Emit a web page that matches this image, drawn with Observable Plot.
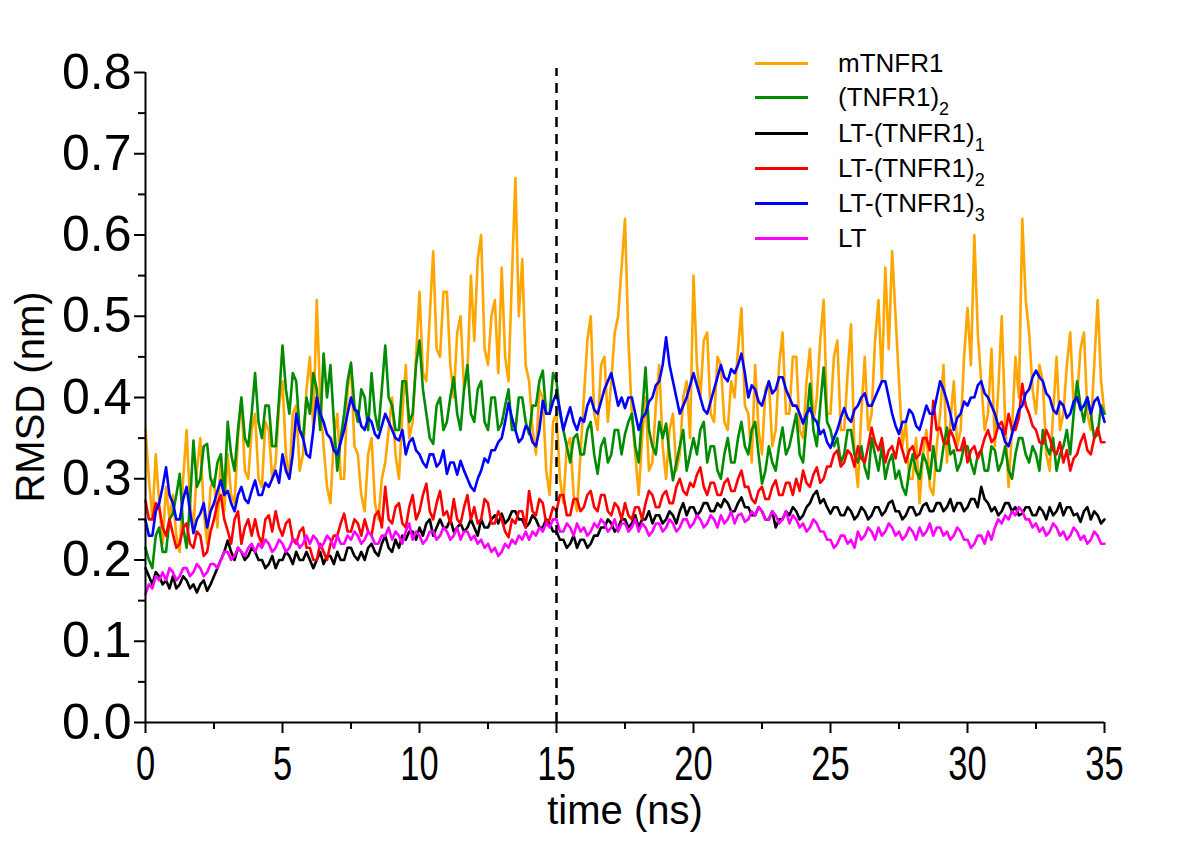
<!DOCTYPE html>
<html>
<head>
<meta charset="utf-8">
<script src="https://cdn.jsdelivr.net/npm/d3@7"></script>
<script src="https://cdn.jsdelivr.net/npm/@observablehq/plot@0.6"></script>
<style>
  body { margin: 0; background: #fff; }
  #wrap { position: relative; width: 1200px; height: 848px; font-family: "Liberation Sans", Arial, sans-serif; }
  #legend { position: absolute; left: 755px; top: 0; }
  .row { position: absolute; left: 0; height: 0; white-space: nowrap; }
  .sw { position: absolute; left: 0; width: 53px; height: 3px; top: -1.5px; }
  .lab { position: absolute; left: 83px; top: -15px; font-size: 26px; line-height: 30px; color: #000; }
  .lab sub { font-size: 18px; vertical-align: -9px; line-height: 0; }
  .title { position: absolute; white-space: nowrap; color: #000; font-size: 40px; line-height: 40px; }
  #xtitle { left: 625px; top: 810px; transform: translate(-50%, -50%); }
  #ytitle { left: 30px; top: 397px; transform: translate(-50%, -50%) rotate(-90deg); }
</style>
</head>
<body>
<div id="wrap"><div id="legend"></div><div class="title" id="xtitle"></div><div class="title" id="ytitle"></div></div>
<script>
// sampling step of the time series (ns)
const dt = 0.125;

const xTitle = "time (ns)";
const yTitle = "RMSD (nm)";
const seriesColors = ["#ffa500", "#008c00", "#000000", "#ff0000", "#0000ff", "#ff00ff"];

const mTNFR1 = [
0.36,0.30,0.25,0.33,0.27,0.22,0.29,0.25, 0.28,0.23,0.21,0.30,0.36,0.27,0.24,0.31,
0.35,0.26,0.22,0.29,0.30,0.24,0.33,0.26, 0.33,0.28,0.27,0.35,0.40,0.31,0.30,0.36,
0.38,0.30,0.29,0.37,0.36,0.30,0.32,0.39, 0.42,0.33,0.30,0.38,0.39,0.31,0.33,0.41,
0.45,0.36,0.52,0.40,0.34,0.29,0.27,0.35, 0.38,0.30,0.30,0.41,0.44,0.34,0.33,0.28,
0.26,0.33,0.35,0.27,0.25,0.30,0.32,0.36, 0.40,0.33,0.30,0.38,0.44,0.35,0.37,0.45,
0.53,0.43,0.42,0.50,0.58,0.46,0.45,0.53, 0.53,0.44,0.40,0.48,0.50,0.41,0.43,0.55,
0.47,0.57,0.60,0.46,0.44,0.50,0.52,0.43, 0.56,0.45,0.42,0.55,0.67,0.50,0.57,0.44,
0.42,0.36,0.33,0.41,0.40,0.31,0.28,0.37, 0.38,0.30,0.27,0.34,0.35,0.28,0.26,0.33,
0.40,0.47,0.50,0.38,0.36,0.44,0.45,0.37, 0.42,0.48,0.50,0.56,0.62,0.47,0.38,0.33,
0.28,0.35,0.40,0.31,0.32,0.39,0.44,0.34, 0.30,0.36,0.38,0.31,0.33,0.40,0.42,0.35,
0.55,0.44,0.40,0.47,0.48,0.38,0.37,0.45, 0.44,0.37,0.36,0.42,0.40,0.46,0.51,0.39,
0.38,0.32,0.44,0.36,0.33,0.41,0.42,0.34, 0.36,0.44,0.48,0.38,0.38,0.45,0.45,0.36,
0.35,0.42,0.46,0.37,0.40,0.47,0.52,0.38, 0.38,0.45,0.47,0.36,0.36,0.43,0.49,0.33,
0.29,0.38,0.45,0.36,0.38,0.47,0.52,0.42, 0.56,0.46,0.58,0.50,0.42,0.34,0.37,0.30,
0.30,0.35,0.27,0.33,0.36,0.29,0.28,0.34, 0.38,0.44,0.32,0.37,0.42,0.34,0.36,0.45,
0.51,0.44,0.60,0.48,0.42,0.36,0.38,0.46, 0.34,0.41,0.50,0.37,0.29,0.36,0.45,0.40,
0.62,0.52,0.48,0.41,0.38,0.44,0.42,0.33, 0.31,0.38,0.45,0.36,0.38,0.44,0.48,0.39,
0.40,0.46,0.48,0.38,0.36,0.44,0.52,0.42, 0.38];

const TNFR1_2 = [
0.215,0.20,0.19,0.23,0.24,0.21,0.21,0.25, 0.257,0.28,0.306,0.24,0.215,0.27,0.347,0.29,
0.30,0.34,0.343,0.30,0.29,0.32,0.33,0.28, 0.37,0.33,0.31,0.36,0.40,0.35,0.34,0.38,
0.43,0.37,0.35,0.39,0.39,0.34,0.34,0.40, 0.464,0.41,0.38,0.43,0.42,0.36,0.35,0.40,
0.38,0.43,0.41,0.36,0.454,0.40,0.44,0.37, 0.31,0.35,0.38,0.42,0.443,0.39,0.37,0.41,
0.40,0.36,0.43,0.38,0.36,0.41,0.464,0.40, 0.39,0.36,0.36,0.42,0.42,0.37,0.38,0.44,
0.47,0.41,0.38,0.35,0.343,0.39,0.40,0.36, 0.37,0.40,0.425,0.38,0.36,0.41,0.44,0.38,
0.37,0.41,0.42,0.37,0.36,0.40,0.40,0.36, 0.368,0.39,0.41,0.36,0.36,0.40,0.40,0.37,
0.355,0.39,0.39,0.42,0.433,0.38,0.38,0.43, 0.42,0.38,0.36,0.34,0.32,0.35,0.355,0.33,
0.33,0.36,0.37,0.33,0.306,0.34,0.35,0.32, 0.33,0.36,0.36,0.33,0.355,0.37,0.38,0.34,
0.32,0.38,0.437,0.36,0.34,0.33,0.37,0.35, 0.368,0.33,0.298,0.32,0.34,0.36,0.31,0.33,
0.35,0.33,0.36,0.37,0.32,0.34,0.34,0.31, 0.30,0.33,0.35,0.32,0.32,0.35,0.37,0.34,
0.33,0.36,0.37,0.33,0.294,0.31,0.34,0.32, 0.31,0.34,0.363,0.33,0.34,0.36,0.38,0.33,
0.32,0.37,0.417,0.36,0.34,0.39,0.437,0.37, 0.36,0.34,0.35,0.32,0.33,0.36,0.36,0.33,
0.32,0.34,0.314,0.30,0.35,0.33,0.31,0.34, 0.30,0.32,0.33,0.30,0.31,0.29,0.28,0.31,
0.33,0.31,0.30,0.33,0.32,0.30,0.34,0.31, 0.31,0.34,0.363,0.33,0.335,0.31,0.32,0.34,
0.34,0.32,0.306,0.33,0.335,0.31,0.31,0.34, 0.335,0.31,0.32,0.34,0.31,0.30,0.33,0.35,
0.35,0.33,0.32,0.34,0.33,0.31,0.36,0.34, 0.33,0.35,0.31,0.33,0.34,0.36,0.33,0.38,
0.42,0.39,0.37,0.40,0.38,0.35,0.355,0.39, 0.38];

const LT_TNFR1_1 = [
0.19,0.18,0.17,0.185,0.18,0.17,0.175,0.165, 0.18,0.165,0.17,0.18,0.175,0.165,0.17,0.16,
0.17,0.175,0.162,0.17,0.18,0.19,0.20,0.21, 0.224,0.21,0.20,0.215,0.21,0.20,0.205,0.215,
0.21,0.20,0.20,0.19,0.195,0.205,0.19,0.20, 0.20,0.21,0.205,0.195,0.21,0.20,0.20,0.21,
0.20,0.19,0.20,0.21,0.195,0.205,0.205,0.195, 0.21,0.20,0.20,0.215,0.215,0.205,0.20,0.21,
0.20,0.215,0.22,0.21,0.205,0.22,0.23,0.215, 0.21,0.225,0.215,0.23,0.225,0.235,0.235,0.225,
0.24,0.23,0.245,0.25,0.23,0.24,0.25,0.24, 0.24,0.25,0.235,0.24,0.245,0.235,0.24,0.25,
0.24,0.23,0.25,0.24,0.24,0.25,0.255,0.245, 0.257,0.245,0.25,0.26,0.26,0.25,0.25,0.24,
0.245,0.255,0.25,0.24,0.24,0.25,0.245,0.235, 0.235,0.225,0.225,0.215,0.22,0.23,0.215,0.225,
0.225,0.215,0.22,0.23,0.23,0.24,0.24,0.25, 0.245,0.235,0.24,0.25,0.25,0.24,0.245,0.255,
0.24,0.25,0.25,0.26,0.245,0.255,0.255,0.245, 0.25,0.26,0.255,0.245,0.26,0.27,0.255,0.265,
0.265,0.255,0.26,0.27,0.27,0.26,0.26,0.27, 0.265,0.275,0.27,0.26,0.26,0.27,0.277,0.265,
0.265,0.255,0.255,0.265,0.26,0.25,0.25,0.26, 0.24,0.25,0.25,0.26,0.255,0.265,0.26,0.25,
0.255,0.265,0.27,0.28,0.285,0.27,0.275,0.265, 0.257,0.265,0.265,0.255,0.255,0.265,0.26,0.25,
0.255,0.265,0.26,0.25,0.255,0.265,0.265,0.255, 0.26,0.27,0.273,0.26,0.26,0.25,0.255,0.265,
0.265,0.255,0.257,0.267,0.27,0.26,0.26,0.27, 0.27,0.26,0.265,0.275,0.26,0.27,0.27,0.26,
0.265,0.275,0.275,0.265,0.29,0.275,0.27,0.26, 0.265,0.255,0.26,0.27,0.27,0.26,0.265,0.255,
0.257,0.265,0.265,0.255,0.255,0.265,0.26,0.25, 0.265,0.255,0.26,0.27,0.255,0.265,0.265,0.255,
0.257,0.247,0.26,0.265,0.25,0.26,0.255,0.245, 0.25];

const LT_TNFR1_2 = [
0.273,0.25,0.25,0.27,0.265,0.24,0.23,0.25, 0.232,0.215,0.22,0.24,0.245,0.22,0.215,0.235,
0.23,0.205,0.21,0.235,0.25,0.27,0.28,0.25, 0.236,0.22,0.25,0.26,0.22,0.24,0.25,0.23,
0.25,0.23,0.22,0.25,0.255,0.235,0.26,0.24, 0.23,0.245,0.25,0.225,0.22,0.235,0.24,0.215,
0.215,0.20,0.20,0.22,0.21,0.20,0.22,0.23, 0.23,0.245,0.257,0.235,0.235,0.25,0.245,0.23,
0.25,0.235,0.23,0.255,0.26,0.24,0.29,0.25, 0.245,0.265,0.27,0.245,0.24,0.265,0.28,0.25,
0.26,0.28,0.294,0.26,0.25,0.27,0.285,0.255, 0.26,0.245,0.275,0.25,0.245,0.265,0.28,0.25,
0.265,0.245,0.25,0.275,0.27,0.245,0.245,0.26, 0.25,0.235,0.228,0.25,0.245,0.26,0.26,0.24,
0.285,0.26,0.255,0.275,0.27,0.245,0.25,0.265, 0.26,0.28,0.28,0.255,0.255,0.275,0.275,0.26,
0.265,0.28,0.285,0.265,0.26,0.28,0.28,0.26, 0.255,0.27,0.265,0.25,0.27,0.255,0.25,0.265,
0.265,0.25,0.27,0.285,0.28,0.265,0.265,0.28, 0.285,0.27,0.27,0.29,0.30,0.285,0.28,0.295,
0.29,0.305,0.314,0.29,0.28,0.295,0.295,0.28, 0.28,0.295,0.30,0.285,0.285,0.30,0.31,0.29,
0.29,0.275,0.27,0.285,0.29,0.275,0.275,0.29, 0.298,0.28,0.28,0.295,0.295,0.28,0.30,0.285,
0.31,0.295,0.29,0.305,0.314,0.295,0.30,0.315, 0.315,0.33,0.335,0.315,0.32,0.335,0.33,0.315,
0.34,0.325,0.32,0.34,0.363,0.345,0.335,0.35, 0.32,0.335,0.34,0.325,0.35,0.335,0.32,0.335,
0.34,0.325,0.33,0.35,0.35,0.335,0.396,0.36, 0.363,0.345,0.343,0.36,0.35,0.335,0.335,0.35,
0.32,0.335,0.34,0.325,0.335,0.35,0.36,0.345, 0.35,0.365,0.37,0.355,0.38,0.36,0.36,0.375,
0.417,0.39,0.38,0.365,0.36,0.345,0.343,0.36, 0.35,0.335,0.33,0.345,0.32,0.335,0.31,0.325,
0.33,0.345,0.355,0.335,0.33,0.35,0.363,0.345, 0.345];

const LT_TNFR1_3 = [
0.249,0.23,0.23,0.26,0.27,0.29,0.314,0.28, 0.27,0.25,0.25,0.275,0.29,0.26,0.233,0.25,
0.257,0.27,0.24,0.26,0.27,0.285,0.298,0.28, 0.285,0.27,0.26,0.28,0.29,0.275,0.27,0.285,
0.298,0.28,0.28,0.295,0.29,0.30,0.31,0.295, 0.33,0.31,0.30,0.33,0.38,0.36,0.35,0.33,
0.326,0.36,0.40,0.38,0.37,0.355,0.35,0.335, 0.33,0.345,0.36,0.38,0.40,0.385,0.383,0.365,
0.36,0.375,0.37,0.355,0.35,0.365,0.38,0.37, 0.36,0.35,0.347,0.36,0.33,0.345,0.35,0.335,
0.33,0.32,0.314,0.33,0.33,0.315,0.32,0.335, 0.306,0.32,0.32,0.305,0.322,0.31,0.30,0.29,
0.285,0.30,0.31,0.325,0.32,0.335,0.335,0.345, 0.35,0.37,0.393,0.375,0.36,0.345,0.35,0.365,
0.36,0.345,0.34,0.36,0.396,0.38,0.38,0.395, 0.405,0.385,0.36,0.375,0.388,0.37,0.36,0.375,
0.37,0.39,0.40,0.385,0.38,0.395,0.41,0.42, 0.43,0.41,0.39,0.40,0.387,0.40,0.40,0.38,
0.36,0.375,0.38,0.395,0.40,0.415,0.42,0.44, 0.474,0.44,0.42,0.40,0.38,0.39,0.40,0.415,
0.43,0.415,0.40,0.385,0.38,0.395,0.41,0.425, 0.44,0.425,0.42,0.435,0.43,0.44,0.454,0.43,
0.40,0.415,0.41,0.395,0.39,0.405,0.42,0.405, 0.41,0.425,0.425,0.41,0.40,0.39,0.39,0.38,
0.368,0.38,0.387,0.375,0.37,0.355,0.36,0.345, 0.338,0.35,0.36,0.375,0.387,0.375,0.37,0.385,
0.39,0.40,0.405,0.39,0.39,0.40,0.41,0.42, 0.42,0.40,0.38,0.365,0.355,0.37,0.37,0.385,
0.38,0.365,0.36,0.375,0.39,0.38,0.38,0.40, 0.42,0.41,0.396,0.38,0.36,0.375,0.38,0.395,
0.39,0.40,0.40,0.415,0.42,0.405,0.40,0.39, 0.38,0.365,0.36,0.345,0.34,0.355,0.37,0.385,
0.39,0.405,0.41,0.425,0.433,0.425,0.42,0.405, 0.40,0.385,0.38,0.395,0.39,0.375,0.38,0.395,
0.40,0.385,0.39,0.40,0.38,0.395,0.40,0.385, 0.37];

const LT = [
0.158,0.17,0.165,0.18,0.175,0.185,0.175,0.19, 0.185,0.175,0.18,0.19,0.19,0.18,0.185,0.195,
0.19,0.18,0.185,0.195,0.195,0.19,0.20,0.21, 0.21,0.20,0.205,0.215,0.21,0.205,0.215,0.22,
0.21,0.22,0.215,0.225,0.22,0.21,0.215,0.225, 0.22,0.21,0.215,0.225,0.225,0.215,0.22,0.23,
0.22,0.23,0.225,0.215,0.22,0.23,0.225,0.215, 0.23,0.22,0.22,0.23,0.225,0.235,0.23,0.22,
0.225,0.235,0.23,0.22,0.22,0.23,0.23,0.24, 0.225,0.235,0.23,0.22,0.235,0.245,0.225,0.235,
0.23,0.22,0.225,0.235,0.235,0.225,0.23,0.24, 0.235,0.225,0.23,0.24,0.225,0.235,0.235,0.225,
0.23,0.22,0.225,0.215,0.22,0.21,0.215,0.205, 0.21,0.22,0.215,0.225,0.22,0.23,0.225,0.235,
0.225,0.235,0.23,0.24,0.235,0.245,0.24,0.25, 0.25,0.235,0.235,0.245,0.24,0.23,0.245,0.235,
0.24,0.23,0.235,0.245,0.24,0.25,0.245,0.235, 0.24,0.25,0.235,0.245,0.245,0.235,0.24,0.25,
0.235,0.245,0.24,0.23,0.235,0.245,0.245,0.235, 0.24,0.25,0.245,0.235,0.24,0.25,0.25,0.24,
0.245,0.255,0.25,0.24,0.245,0.255,0.25,0.24, 0.255,0.245,0.25,0.26,0.245,0.255,0.257,0.247,
0.25,0.26,0.255,0.265,0.26,0.25,0.25,0.26, 0.255,0.245,0.25,0.26,0.245,0.255,0.25,0.24,
0.245,0.235,0.24,0.25,0.245,0.235,0.235,0.225, 0.225,0.215,0.22,0.23,0.23,0.22,0.225,0.215,
0.235,0.225,0.23,0.24,0.235,0.225,0.24,0.23, 0.235,0.245,0.24,0.23,0.235,0.225,0.23,0.24,
0.235,0.225,0.24,0.23,0.235,0.245,0.23,0.24, 0.24,0.23,0.235,0.225,0.23,0.24,0.235,0.225,
0.225,0.215,0.22,0.23,0.23,0.22,0.235,0.225, 0.24,0.25,0.245,0.255,0.25,0.26,0.255,0.265,
0.26,0.25,0.25,0.24,0.245,0.235,0.24,0.23, 0.235,0.245,0.24,0.23,0.235,0.225,0.23,0.24,
0.235,0.225,0.23,0.22,0.225,0.235,0.23,0.22, 0.22];

const seriesValues = [mTNFR1, TNFR1_2, LT_TNFR1_1, LT_TNFR1_2, LT_TNFR1_3, LT];

const xMajor = [0, 5, 10, 15, 20, 25, 30, 35];
const xMinor = [2.5, 7.5, 12.5, 17.5, 22.5, 27.5, 32.5];
const yMajor = [0, 0.1, 0.2, 0.3, 0.4, 0.5, 0.6, 0.7, 0.8];
const yMinor = [0.05, 0.15, 0.25, 0.35, 0.45, 0.55, 0.65, 0.75];
const markerTime = [15];

const font = '"Liberation Sans", Arial, sans-serif';

const lines = seriesValues.map((vals, k) =>
  Plot.line(vals, {x: (d, i) => i * dt, y: d => d, stroke: seriesColors[k], strokeWidth: 2.6})
);

const chart = Plot.plot({
  width: 1200, height: 848,
  marginLeft: 145, marginRight: 96, marginTop: 72, marginBottom: 126,
  x: {domain: [0, 35]},
  y: {domain: [0, 0.8]},
  style: {fontFamily: font, fontSize: "40px", color: "#000", background: "#fff", overflow: "visible"},
  marks: [
    ...lines,
    Plot.ruleX(markerTime, {y1: 0, y2: 0.805, stroke: "#000", strokeWidth: 2.5, strokeDasharray: "10,7"}),
    Plot.ruleX([0], {stroke: "#000", strokeWidth: 2}),
    Plot.ruleY([0], {stroke: "#000", strokeWidth: 2}),
    Plot.axisX({ticks: xMajor, tickSize: 11, tickPadding: 12, strokeWidth: 2, fontSize: 48,
      tickFormat: d => String(d), label: null}),
    Plot.axisX({ticks: xMinor, tickSize: 7, strokeWidth: 2, tickFormat: () => "", label: null}),
    Plot.axisY({ticks: yMajor, tickSize: 11, tickPadding: 3, strokeWidth: 2, fontSize: 50,
      tickFormat: d3.format(".1f"), label: null}),
    Plot.axisY({ticks: yMinor, tickSize: 7, strokeWidth: 2, tickFormat: () => "", label: null})
  ]
});
document.getElementById("wrap").prepend(chart);

// the reference's x tick labels are set in a narrow face
chart.querySelectorAll('g[aria-label="x-axis tick label"] text').forEach(t => {
  const L = t.getComputedTextLength();
  if (L > 0) {
    t.setAttribute("textLength", (L * 0.72).toFixed(1));
    t.setAttribute("lengthAdjust", "spacingAndGlyphs");
  }
});

document.getElementById("xtitle").textContent = xTitle;
document.getElementById("ytitle").textContent = yTitle;

// legend
const legendRows = [
  {main: "mTNFR1", sub: "", y: 63},
  {main: "(TNFR1)", sub: "2", y: 97},
  {main: "LT-(TNFR1)", sub: "1", y: 133},
  {main: "LT-(TNFR1)", sub: "2", y: 168},
  {main: "LT-(TNFR1)", sub: "3", y: 203},
  {main: "LT", sub: "", y: 238}
];
const legend = document.getElementById("legend");
legendRows.forEach((r, k) => {
  const row = document.createElement("div");
  row.className = "row";
  row.style.top = r.y + "px";
  const sw = document.createElement("div");
  sw.className = "sw";
  sw.style.background = seriesColors[k];
  const lab = document.createElement("div");
  lab.className = "lab";
  lab.textContent = r.main;
  if (r.sub) { const s = document.createElement("sub"); s.textContent = r.sub; lab.appendChild(s); }
  row.appendChild(sw); row.appendChild(lab);
  legend.appendChild(row);
});
</script>
</body>
</html>
